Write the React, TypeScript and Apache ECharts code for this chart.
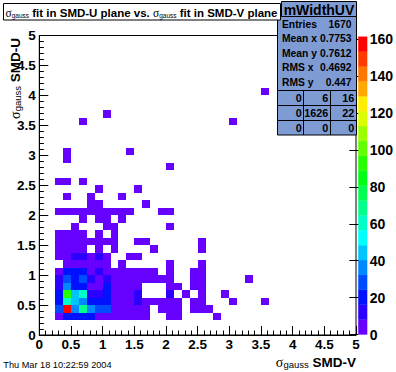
import React, { useEffect, useRef } from 'react';
import * as echarts from 'echarts';

type Cell = [number, number, number];

// bin width of the 2D histogram (40 x 40 bins over 0..5)
const BIN = 0.125;
const Z_MAX = 161.4;
const AXIS_TICKS_MAX = 5;
const COLORBAR_TICKS = [0, 20, 40, 60, 80, 100, 120, 140, 160];

// 20 contour colours, low -> high
const PALETTE = [
  '#6600ff', '#2b00ff', '#0011ff', '#004cff', '#0088ff', '#00c4ff', '#00ffff', '#00ffc8', '#00ff8c', '#00ff51',
  '#00ff15', '#26ff00', '#62ff00', '#9dff00', '#d9ff00', '#ffee00', '#ffa800', '#ff7700', '#ff3b00', '#ff0000',
];

// [x bin low edge, y bin low edge, entries]
const cellsLow: Cell[] = [
  [0.25, 0.25, 5], [0.375, 0.25, 21], [0.5, 0.25, 22], [0.625, 0.25, 19], [0.75, 0.25, 18], [0.875, 0.25, 6], [1.0, 0.25, 5], [1.125, 0.25, 4], [1.25, 0.25, 4], [1.375, 0.25, 3], [1.5, 0.25, 3], [1.625, 0.25, 2], [2.0, 0.25, 2], [2.125, 0.25, 1], [2.75, 0.25, 1],
  [0.25, 0.375, 28], [0.375, 0.375, 161], [0.5, 0.375, 37], [0.625, 0.375, 68], [0.75, 0.375, 35], [0.875, 0.375, 27], [1.0, 0.375, 26], [1.125, 0.375, 6], [1.25, 0.375, 5], [1.375, 0.375, 4], [1.5, 0.375, 4], [1.625, 0.375, 3], [1.875, 0.375, 2], [2.0, 0.375, 2], [2.125, 0.375, 1], [2.375, 0.375, 2], [2.5, 0.375, 2], [2.625, 0.375, 1],
  [0.25, 0.5, 20], [0.375, 0.5, 60], [0.5, 0.5, 45], [0.625, 0.5, 36], [0.75, 0.5, 21], [0.875, 0.5, 20], [1.0, 0.5, 18], [1.125, 0.5, 6], [1.25, 0.5, 5], [1.375, 0.5, 4], [1.5, 0.5, 9], [1.625, 0.5, 4], [1.75, 0.5, 3], [1.875, 0.5, 3], [2.0, 0.5, 2], [2.125, 0.5, 2], [2.375, 0.5, 2], [2.5, 0.5, 2], [3.0, 0.5, 1], [3.5, 0.5, 1],
];

const cellsMid: Cell[] = [
  [0.25, 0.625, 19], [0.375, 0.625, 92], [0.5, 0.625, 44], [0.625, 0.625, 60], [0.75, 0.625, 12], [0.875, 0.625, 11], [1.0, 0.625, 18], [1.125, 0.625, 6], [1.25, 0.625, 5], [1.375, 0.625, 3], [1.5, 0.625, 9], [2.0, 0.625, 9], [2.25, 0.625, 1], [2.5, 0.625, 2], [2.875, 0.625, 1],
  [0.25, 0.75, 12], [0.375, 0.75, 36], [0.5, 0.75, 20], [0.625, 0.75, 19], [0.75, 0.75, 6], [0.875, 0.75, 7], [1.0, 0.75, 18], [1.125, 0.75, 5], [1.25, 0.75, 4], [1.375, 0.75, 3], [1.5, 0.75, 2], [2.0, 0.75, 2], [2.125, 0.75, 1], [2.375, 0.75, 2], [2.5, 0.75, 1],
  [0.25, 0.875, 12], [0.375, 0.875, 27], [0.5, 0.875, 20], [0.625, 0.875, 26], [0.75, 0.875, 11], [0.875, 0.875, 7], [1.0, 0.875, 10], [1.125, 0.875, 5], [1.25, 0.875, 4], [1.375, 0.875, 4], [1.5, 0.875, 3], [1.625, 0.875, 2], [1.75, 0.875, 2], [1.875, 0.875, 2], [2.0, 0.875, 1], [2.375, 0.875, 2], [2.5, 0.875, 1], [3.25, 0.875, 1],
  [0.25, 1.0, 5], [0.375, 1.0, 19], [0.5, 1.0, 20], [0.625, 1.0, 18], [0.75, 1.0, 6], [0.875, 1.0, 10], [1.0, 1.0, 5], [1.125, 1.0, 4], [1.25, 1.0, 3], [1.375, 1.0, 3], [1.5, 1.0, 2], [1.625, 1.0, 2], [1.75, 1.0, 1], [2.0, 1.0, 2], [2.375, 1.0, 1], [2.5, 1.0, 1],
  [0.375, 1.125, 4], [0.5, 1.125, 6], [0.625, 1.125, 5], [0.75, 1.125, 3], [0.875, 1.125, 5], [1.0, 1.125, 3], [1.25, 1.125, 2], [2.0, 1.125, 1], [2.5, 1.125, 1],
  [0.25, 1.25, 4], [0.375, 1.25, 5], [0.5, 1.25, 10], [0.625, 1.25, 9], [0.75, 1.25, 4], [0.875, 1.25, 9], [1.0, 1.25, 3], [1.375, 1.25, 1], [1.5, 1.25, 1],
];

const cellsHigh: Cell[] = [
  [0.25, 1.375, 3], [0.375, 1.375, 4], [0.5, 1.375, 3], [0.625, 1.375, 2], [0.875, 1.375, 2], [1.125, 1.375, 1], [1.75, 1.375, 1], [2.5, 1.375, 1],
  [0.25, 1.5, 3], [0.375, 1.5, 4], [0.5, 1.5, 3], [0.625, 1.5, 3], [0.75, 1.5, 2], [0.875, 1.5, 2], [1.0, 1.5, 1], [1.125, 1.5, 2], [1.5, 1.5, 1], [1.625, 1.5, 1], [2.5, 1.5, 1],
  [0.25, 1.625, 2], [0.375, 1.625, 3], [0.5, 1.625, 2], [0.625, 1.625, 2], [0.875, 1.625, 1], [1.125, 1.625, 1],
  [0.5, 1.75, 1], [1.0, 1.75, 1], [1.125, 1.75, 1], [2.0, 1.75, 1],
  [0.625, 1.875, 1], [0.875, 1.875, 1], [1.0, 1.875, 1], [1.25, 1.875, 1],
  [0.25, 2.0, 1], [0.375, 2.0, 2], [0.5, 2.0, 1], [0.625, 2.0, 2], [0.75, 2.0, 1], [0.875, 2.0, 2], [1.0, 2.0, 1], [1.125, 2.0, 1], [1.25, 2.0, 1], [1.375, 2.0, 1], [1.875, 2.0, 1], [2.0, 2.0, 1],
  [0.75, 2.125, 1], [0.875, 2.125, 1], [1.625, 2.125, 1],
  [0.375, 2.25, 1], [0.75, 2.25, 1], [1.25, 2.25, 1],
  [0.875, 2.375, 1], [1.5, 2.375, 1],
  [0.25, 2.5, 1], [0.375, 2.5, 1], [0.625, 2.5, 1],
  [2.0, 2.75, 1],
  [0.375, 2.875, 1],
  [0.375, 3.0, 1], [1.375, 3.0, 1],
  [0.625, 3.5, 1], [3.0, 3.5, 1],
  [1.0, 3.625, 1],
  [3.5, 4.0, 1],
];

const STATS_TITLE = 'mWidthUV';
const STATS_LABELS = ['Entries', 'Mean x', 'Mean y', 'RMS x', 'RMS y'];
const STATS_VALUES = ['1670', '0.7753', '0.7612', '0.4692', '0.447'];
const OVERFLOW_TABLE = [
  ['0', '6', '16'],
  ['0', '1626', '22'],
  ['0', '0', '0'],
];
const DATE_TEXT = 'Thu Mar 18 10:22:59 2004';

const FONT = '"Liberation Sans", Arial, Helvetica, sans-serif';
const STAT_FILL = '#7e9bd4';

function buildOption() {
  const step = Z_MAX / PALETTE.length;
  const cells = [...cellsLow, ...cellsMid, ...cellsHigh];

  const axisCommon = {
    type: 'value' as const,
    min: 0,
    max: AXIS_TICKS_MAX,
    interval: 0.5,
    z: 10,
    axisLine: { show: true, lineStyle: { color: '#000', width: 1 } },
    axisTick: { show: true, inside: true, length: 9, lineStyle: { color: '#000', width: 1 } },
    minorTick: { show: true, splitNumber: 5, length: 4.5, lineStyle: { color: '#000', width: 1 } },
    splitLine: { show: false },
    minorSplitLine: { show: false },
  };

  const statsRowsY = [24, 38.6, 53.1, 67.7, 82.8];
  const tableRowsY = [98, 112.8, 127.6];
  const tableColsRight = [301.7, 328.3, 354.3];

  const graphics: any[] = [];
  // stats box
  graphics.push({ type: 'rect', z: 100, shape: { x: 277.5, y: 16.5, width: 79, height: 118.5 }, style: { fill: STAT_FILL, stroke: '#000', lineWidth: 1 } });
  graphics.push({ type: 'rect', z: 100, shape: { x: 281.5, y: 1.5, width: 75, height: 15 }, style: { fill: STAT_FILL, stroke: '#000', lineWidth: 1 } });
  graphics.push({ type: 'text', z: 101, x: 319, y: 9.5, style: { text: STATS_TITLE, font: `bold 14px ${FONT}`, fill: '#000', align: 'center', verticalAlign: 'middle' } });
  STATS_LABELS.forEach((l, k) => {
    graphics.push({ type: 'text', z: 101, x: 282, y: statsRowsY[k], style: { text: l, font: `bold 10.3px ${FONT}`, fill: '#000', align: 'left', verticalAlign: 'middle' } });
    graphics.push({ type: 'text', z: 101, x: 351.5, y: statsRowsY[k], style: { text: STATS_VALUES[k], font: `bold 10.3px ${FONT}`, fill: '#000', align: 'right', verticalAlign: 'middle' } });
  });
  [90.5, 105.5, 120.5].forEach((y) => {
    graphics.push({ type: 'line', z: 101, shape: { x1: 277.5, y1: y, x2: 356.5, y2: y }, style: { stroke: '#000', lineWidth: 1 } });
  });
  [303.5, 330.5].forEach((x) => {
    graphics.push({ type: 'line', z: 101, shape: { x1: x, y1: 90.5, x2: x, y2: 135 }, style: { stroke: '#000', lineWidth: 1 } });
  });
  OVERFLOW_TABLE.forEach((row, r) => {
    row.forEach((v, c) => {
      graphics.push({ type: 'text', z: 102, x: tableColsRight[c], y: tableRowsY[r], style: { text: v, font: `bold 10.8px ${FONT}`, fill: '#000', align: 'right', verticalAlign: 'middle' } });
    });
  });

  // title box
  graphics.push({ type: 'rect', z: 110, shape: { x: 3.5, y: 3.5, width: 277, height: 16.5 }, style: { fill: '#fff', stroke: '#000', lineWidth: 1 } });
  graphics.push({
    type: 'text', z: 111, x: 141.5, y: 12,
    style: {
      text: '{s|σ}{g|gauss}{b| fit in SMD-U plane vs. }{s|σ}{g|gauss}{b| fit in SMD-V plane}',
      align: 'center', verticalAlign: 'middle',
      rich: {
        s: { fontFamily: '"Liberation Serif", serif', fontSize: 11.5, fill: '#000', verticalAlign: 'bottom', lineHeight: 13 },
        g: { fontFamily: FONT, fontSize: 6.5, fill: '#000', verticalAlign: 'bottom', lineHeight: 10 },
        b: { fontFamily: FONT, fontWeight: 'bold', fontSize: 11.5, fill: '#000', verticalAlign: 'bottom', lineHeight: 13 },
      },
    },
  });

  const axisTitleRich = {
    s: { fontFamily: '"Liberation Serif", serif', fontSize: 14, fill: '#000', verticalAlign: 'bottom', lineHeight: 16 },
    g: { fontFamily: FONT, fontSize: 9.5, fill: '#000', verticalAlign: 'bottom', lineHeight: 11 },
    b: { fontFamily: FONT, fontWeight: 'bold', fontSize: 13.5, fill: '#000', verticalAlign: 'bottom', lineHeight: 16 },
  };
  // x axis title
  graphics.push({
    type: 'text', z: 50, x: 356, y: 361,
    style: { text: '{s|σ}{g|gauss}{b| SMD-V}', align: 'right', verticalAlign: 'middle', rich: axisTitleRich },
  });
  // y axis title
  graphics.push({
    type: 'text', z: 50, x: 14, y: 38, rotation: Math.PI / 2,
    style: { text: '{s|σ}{g|gauss}{b| SMD-U}', align: 'right', verticalAlign: 'middle', rich: axisTitleRich },
  });
  // date
  graphics.push({ type: 'text', z: 50, x: 3.3, y: 365, style: { text: DATE_TEXT, font: `9.2px ${FONT}`, fill: '#000', align: 'left', verticalAlign: 'middle' } });

  return {
    animation: false,
    backgroundColor: '#fff',
    grid: [
      { left: 39.3, top: 35.5, width: 316.7, height: 299.5, show: true, borderColor: '#000', borderWidth: 1, backgroundColor: '#fff', containLabel: false },
      { left: 358.3, top: 36.7, width: 17.5, height: 297.8, show: false, containLabel: false },
    ],
    xAxis: [
      {
        ...axisCommon, gridIndex: 0, position: 'bottom',
        axisLabel: { show: true, margin: 2, color: '#000', fontFamily: FONT, fontWeight: 'bold', fontSize: 13.5 },
      },
      { type: 'value', gridIndex: 1, min: 0, max: 1, show: false },
    ],
    yAxis: [
      {
        ...axisCommon, gridIndex: 0, position: 'left',
        axisLabel: { show: true, margin: 3.5, color: '#000', fontFamily: FONT, fontWeight: 'bold', fontSize: 13.5 },
      },
      {
        type: 'value', gridIndex: 1, min: 0, max: Z_MAX, interval: 20, position: 'right', z: 10,
        axisLine: { show: false },
        axisTick: { show: true, inside: true, length: 9, customValues: COLORBAR_TICKS, lineStyle: { color: '#000', width: 1 } },
        axisLabel: { show: true, margin: 2.5, customValues: COLORBAR_TICKS, color: '#000', fontFamily: FONT, fontWeight: 'bold', fontSize: 14 },
        splitLine: { show: false },
      },
    ],
    visualMap: {
      type: 'piecewise', show: false, seriesIndex: 0, dimension: 2,
      pieces: PALETTE.map((c, k) => ({ gte: k * step, lt: k === PALETTE.length - 1 ? Z_MAX + 1000 : (k + 1) * step, color: c })),
    },
    graphic: { elements: graphics },
    series: [
      {
        type: 'custom',
        xAxisIndex: 0, yAxisIndex: 0,
        dimensions: ['x', 'y', 'n'],
        encode: { x: 0, y: 1 },
        data: cells,
        renderItem: (_p: any, api: any) => {
          const x = api.value(0);
          const y = api.value(1);
          const a = api.coord([x, y + BIN]);
          const b = api.coord([x + BIN, y]);
          const x0 = Math.round(a[0]);
          const y0 = Math.round(a[1]);
          const x1 = Math.round(b[0]);
          const y1 = Math.round(b[1]);
          return { type: 'rect', shape: { x: x0, y: y0, width: x1 - x0, height: y1 - y0 }, style: { fill: api.visual('color') } };
        },
      },
      {
        type: 'custom',
        xAxisIndex: 1, yAxisIndex: 1,
        dimensions: ['lo', 'hi', 'k'],
        encode: { y: [0, 1] },
        data: PALETTE.map((_c, k) => [k * step, (k + 1) * step, k]),
        renderItem: (_p: any, api: any) => {
          const lo = api.value(0);
          const hi = api.value(1);
          const k = api.value(2);
          const a = api.coord([0, hi]);
          const b = api.coord([1, lo]);
          return { type: 'rect', shape: { x: a[0], y: a[1], width: b[0] - a[0], height: b[1] - a[1] }, style: { fill: PALETTE[k], stroke: PALETTE[k], lineWidth: 0.3 } };
        },
      },
    ],
  };
}

export default function App() {
  const ref = useRef<HTMLDivElement>(null);
  useEffect(() => {
    if (!ref.current) return;
    const chart = echarts.init(ref.current, null, { renderer: 'svg' });
    chart.setOption(buildOption() as any);
    return () => chart.dispose();
  }, []);
  return <div ref={ref} style={{ position: 'fixed', left: 0, top: 0, width: 396, height: 372, background: '#fff' }} />;
}
